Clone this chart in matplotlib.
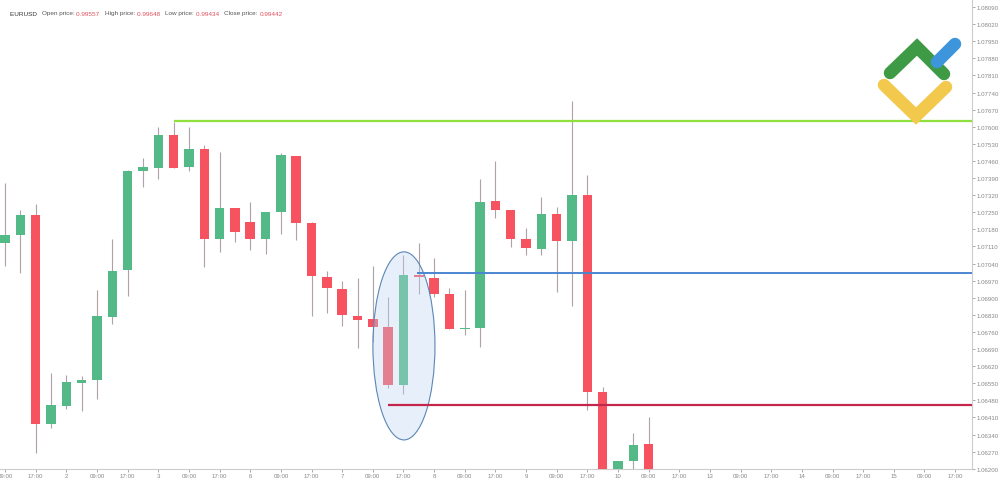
import numpy as np
import matplotlib.pyplot as plt
from matplotlib.patches import Ellipse
from matplotlib.lines import Line2D

plt.rcParams["font.family"] = ["Liberation Sans", "DejaVu Sans"]

# 4h candles
opens = [1.07124, 1.07157, 1.07239, 1.06383, 1.06457, 1.06551, 1.06563, 1.06821, 1.07014, 1.07419,
         1.07431, 1.07566, 1.07435, 1.07509, 1.07141, 1.07267, 1.07210, 1.07141, 1.07251, 1.07480,
         1.07206, 1.06985, 1.06936, 1.06825, 1.06813, 1.06780, 1.06543, 1.06993, 1.06981, 1.06915,
         1.06772, 1.06776, 1.07296, 1.07259, 1.07141, 1.07100, 1.07243, 1.07132, 1.07321, 1.06514,
         1.06180, 1.06232, 1.06301]
highs = [1.07370, 1.07259, 1.07284, 1.06592, 1.06584, 1.06580, 1.06932, 1.07141, 1.07423, 1.07472,
         1.07599, 1.07620, 1.07599, 1.07525, 1.07497, 1.07267, 1.07292, 1.07251, 1.07493, 1.07480,
         1.07210, 1.07010, 1.06969, 1.06981, 1.07030, 1.06903, 1.07075, 1.07124, 1.07063, 1.06940,
         1.06932, 1.07386, 1.07460, 1.07259, 1.07186, 1.07312, 1.07272, 1.07705, 1.07403, 1.06535,
         1.06232, 1.06346, 1.06412]
lows = [1.07030, 1.07001, 1.06265, 1.06367, 1.06445, 1.06436, 1.06486, 1.06793, 1.06907, 1.07353,
        1.07386, 1.07431, 1.07419, 1.07026, 1.07087, 1.07128, 1.07096, 1.07079, 1.07161, 1.07136,
        1.06825, 1.06838, 1.06784, 1.06694, 1.06719, 1.06531, 1.06506, 1.06915, 1.06903, 1.06772,
        1.06748, 1.06698, 1.07227, 1.07108, 1.07075, 1.07075, 1.06924, 1.06866, 1.06441, 1.06120,
        1.06150, 1.06191, 1.06120]
closes = [1.07157, 1.07239, 1.06383, 1.06461, 1.06555, 1.06563, 1.06825, 1.07010, 1.07419, 1.07435,
          1.07566, 1.07431, 1.07509, 1.07141, 1.07267, 1.07169, 1.07141, 1.07251, 1.07484, 1.07206,
          1.06989, 1.06940, 1.06829, 1.06809, 1.06780, 1.06543, 1.06993, 1.06985, 1.06915, 1.06772,
          1.06776, 1.07292, 1.07259, 1.07141, 1.07104, 1.07243, 1.07132, 1.07321, 1.06514, 1.06150,
          1.06232, 1.06297, 1.06150]

x_labels = ["09:00", "17:00", "2", "09:00", "17:00", "3", "09:00", "17:00", "6",
            "09:00", "17:00", "7", "09:00", "17:00", "8", "09:00", "17:00", "9",
            "09:00", "17:00", "10", "09:00", "17:00", "13", "09:00", "17:00", "14",
            "09:00", "17:00", "15", "09:00", "17:00"]
price_ticks = [1.06200 + 0.0007 * k for k in range(28)]

resistance = 1.07623
mid_level = 1.07001
support = 1.06461

GREEN = "#53b987"
RED = "#f7525f"

fig = plt.figure(figsize=(10, 4.85), dpi=100)
ax = fig.add_axes([0.0, 15 / 485, 0.972, 470 / 485])

idx = np.arange(len(opens))
o = np.array(opens); c = np.array(closes)
cols = [GREEN if cc >= oo else RED for oo, cc in zip(o, c)]
ax.vlines(idx, lows, highs, color="#b0a0a8", lw=0.8, zorder=2)
body = np.maximum(np.abs(c - o), 0.00003)
ax.bar(idx, body, bottom=np.minimum(o, c), width=0.62, color=cols, zorder=3)

ax.add_patch(Ellipse((26.03, 1.06703), 4.05, 0.0077, facecolor="#bcd6f2", alpha=0.35,
                     edgecolor="none", zorder=4))
ax.add_patch(Ellipse((26.03, 1.06703), 4.05, 0.0077, facecolor="none",
                     edgecolor="#5b86b5", lw=0.8, zorder=4))

ax.hlines(resistance, 11.0, 70, color="#8ee03c", lw=1.6, zorder=5)
ax.hlines(mid_level, 26.9, 70, color="#4a86d0", lw=1.4, zorder=5)
ax.hlines(support, 25.0, 70, color="#c4254a", lw=1.6, zorder=5)

ax.set_xlim(-0.33, 63.1)
ax.set_ylim(1.06199, 1.08123)
ax.set_xticks(np.arange(0, 64, 2))
ax.set_xticklabels(x_labels)
ax.yaxis.tick_right()
ax.set_yticks(price_ticks)
ax.set_yticklabels([f"{p:.5f}" for p in price_ticks])
ax.tick_params(labelsize=4.4, colors="#888888", length=2, width=0.5, pad=1.2)
for s in ["top", "left"]:
    ax.spines[s].set_visible(False)
for s in ["right", "bottom"]:
    ax.spines[s].set_color("#cccccc")
    ax.spines[s].set_linewidth(0.8)

# header
parts = [("EURUSD   ", "#333333"), ("Open price: ", "#555555"), ("0.99557   ", "#e0505f"),
         ("High price: ", "#555555"), ("0.99648   ", "#e0505f"),
         ("Low price: ", "#555555"), ("0.99434   ", "#e0505f"),
         ("Close price: ", "#555555"), ("0.99442", "#e0505f")]
xpos = 10
for txt, col in parts:
    tt = fig.text(xpos / 1000, 1 - 14 / 485, txt, fontsize=4.6, color=col, va="center")
    fig.canvas.draw()
    xpos += tt.get_window_extent().width

# logo
def px(x, y):
    return x / 1000, 1 - y / 485
def stroke(pts, col):
    xs, ys = zip(*[px(a, b) for a, b in pts])
    fig.add_artist(Line2D(xs, ys, color=col, lw=9, solid_capstyle="round",
                          solid_joinstyle="miter", transform=fig.transFigure))
stroke([(884, 86), (916, 117), (946, 88)], "#f2c94c")
stroke([(890, 74), (917, 48), (944, 75)], "#3f9a45")
stroke([(937, 63), (955, 45)], "#3d95dc")

plt.savefig("out.png", dpi=100)
